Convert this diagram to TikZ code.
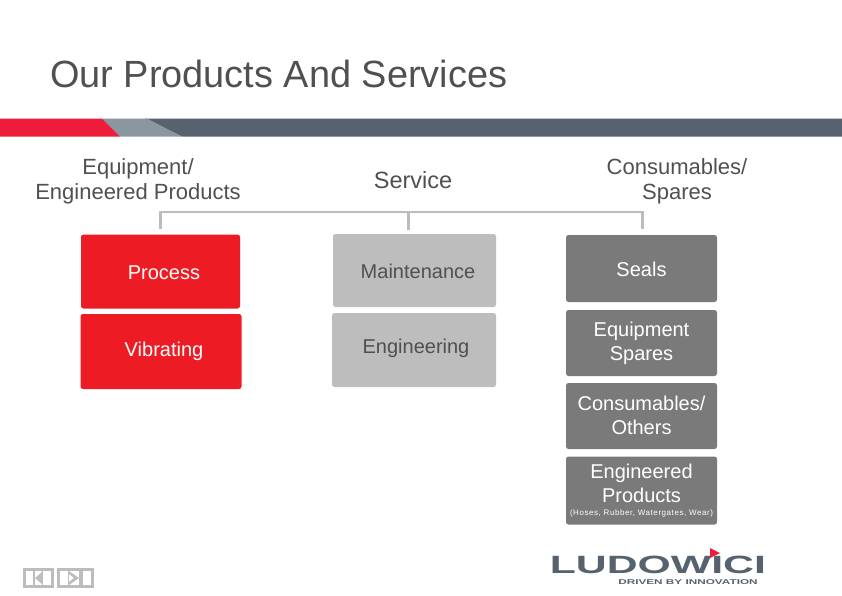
\documentclass[tikz,border=0pt]{standalone}
\usepackage{fontspec}
\setmainfont{Liberation Sans}
\definecolor{txt}{HTML}{505050}
\definecolor{redb}{HTML}{ED1C24}
\definecolor{lgray}{HTML}{BDBDBD}
\definecolor{dgray}{HTML}{7A7A7A}
\definecolor{slate}{HTML}{56636F}
\definecolor{midg}{HTML}{8A96A0}
\definecolor{logored}{HTML}{ED1C3A}
\definecolor{conn}{HTML}{BCBCBC}
\tikzset{
 x=1pt,y=-1pt,
 box/.style={rounded corners=2.5pt,inner sep=0pt,anchor=center},
 redbox/.style={box,fill=redb},
 lightbox/.style={box,fill=lgray},
 darkbox/.style={box,fill=dgray},
 head/.style={text=txt,align=center,font=\fontsize{22}{25}\selectfont,inner sep=0pt},
 label/.style={align=center,font=\fontsize{20}{24}\selectfont,inner sep=0pt},
 conline/.style={draw=conn,line width=2.6pt},
 navbtn/.style={fill=lgray,draw=none}
}
\begin{document}
\begin{tikzpicture}
\useasboundingbox (0,0) rectangle (842,595);
\fill[white] (0,0) rectangle (842,595);
\node[anchor=base west,text=txt,font=\fontsize{37.9}{42}\selectfont,inner sep=0pt] (title) at (50,87) {Our Products And Services};
% header band
\fill[slate] (145,118.5) -- (842,118.5) -- (842,136.5) -- (182,136.5) -- cycle;
\fill[midg] (102,118.5) -- (147,118.5) -- (182,136.5) -- (120,136.5) -- cycle;
\fill[logored] (0,118.5) -- (102,118.5) -- (120,136.5) -- (0,136.5) -- cycle;
% headings
\node[head] (h1) at (138,181) {Equipment/\\Engineered Products};
\node[head,font=\fontsize{23.5}{25}\selectfont] (h2) at (413,180) {Service};
\node[head] (h3) at (677,181.5) {Consumables/\\Spares};
% boxes
\node[redbox,minimum width=159pt,minimum height=74pt] (b1) at (160.5,271.5) {};
\node[redbox,minimum width=161pt,minimum height=75pt] (b2) at (161,351.5) {};
\node[lightbox,minimum width=163pt,minimum height=73pt] (b3) at (414.5,270.5) {};
\node[lightbox,minimum width=164pt,minimum height=74pt] (b4) at (414,350) {};
\node[darkbox,minimum width=151pt,minimum height=67pt] (b5) at (641.5,268.5) {};
\node[darkbox,minimum width=151pt,minimum height=66pt] (b6) at (641.5,343) {};
\node[darkbox,minimum width=151pt,minimum height=66pt] (b7) at (641.5,416) {};
\node[darkbox,minimum width=151pt,minimum height=68pt] (b8) at (641.5,490.5) {};
\node[label,text=white] (t1) at (164,273) {Process};
\node[label,text=white] (t2) at (164,351.5) {Vibrating};
\node[label,text=txt] (t3) at (418,271) {Maintenance};
\node[label,text=txt] (t4) at (416,348.5) {Engineering};
\node[label,text=white] (t5) at (641.5,269) {Seals};
\node[label,text=white] (t6) at (641.5,343.5) {Equipment\\Spares};
\node[label,text=white] (t7) at (641.5,415.5) {Consumables/\\Others};
\node[label,text=white] (t8) at (641.5,483.5) {Engineered\\Products};
\node[text=white,font=\fontsize{8}{9}\selectfont\addfontfeature{LetterSpace=7},inner sep=0pt] (t9) at (641.5,513) {(Hoses, Rubber, Watergates, Wear)};
% connectors
\coordinate (c1) at (160.5,212);
\coordinate (c2) at (408.5,212);
\coordinate (c3) at (642.5,212);
\coordinate (d1) at (160.5,229);
\coordinate (d2) at (408.5,229.5);
\coordinate (d3) at (642.5,228.5);
\draw[conline] (d1) -- (c1) -- (c3) -- (d3);
\draw[conline] (c2) -- (d2);
% nav buttons
\fill[navbtn] (23,568) rectangle (54,588);
\fill[navbtn] (57,568) rectangle (94,588);
\fill[white] (26,571) rectangle (33,585);
\fill[white] (35,571) rectangle (42,585);
\fill[lgray] (35,578) -- (42,572) -- (42,584) -- cycle;
\fill[white] (43,571) rectangle (51,585);
\fill[white] (60,571) rectangle (68,585);
\fill[white] (69,571) rectangle (79,585);
\fill[lgray] (69,571) -- (79,578) -- (69,585) -- (69,582) -- (74,578) -- (69,574) -- cycle;
\fill[white] (83,571) rectangle (91,585);
% logo
\node[anchor=base west,text=slate,font=\fontsize{25}{30}\bfseries\selectfont,inner sep=0pt,xscale=1.71,transform shape] (logo) at (549.5,573) {LUDOWICI};
\fill[logored] (710,548) -- (720,553) -- (710,558) -- cycle;
\node[anchor=base east,text=slate,font=\fontsize{7}{9}\bfseries\selectfont,inner sep=0pt,xscale=1.68,transform shape] (tag) at (758,584) {DRIVEN BY INNOVATION};
\end{tikzpicture}
\end{document}
